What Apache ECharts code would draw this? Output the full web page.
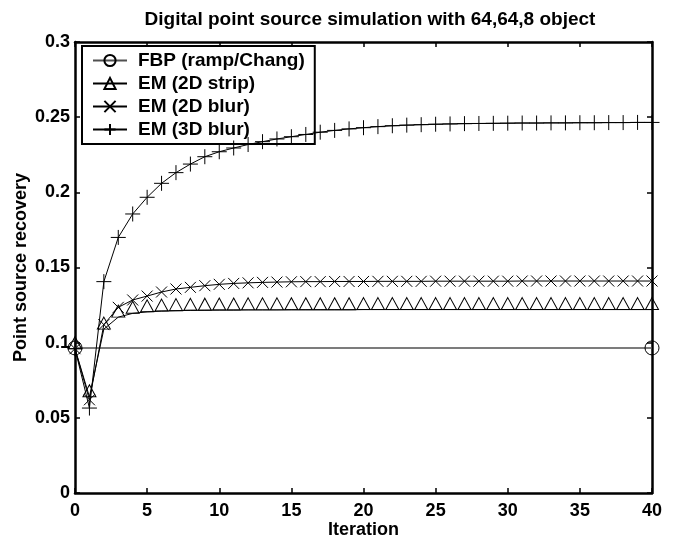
<!DOCTYPE html>
<html>
<head>
<meta charset="utf-8">
<script src="https://cdn.jsdelivr.net/npm/echarts@6/dist/echarts.min.js"></script>
<style>
  html, body { margin: 0; padding: 0; background: #fff; }
  #chart { width: 678px; height: 542px; }
</style>
</head>
<body>
<div id="chart"></div>
<script>
// values
const iterations = [0,1,2,3,4,5,6,7,8,9,10,11,12,13,14,15,16,17,18,19,20,
  21,22,23,24,25,26,27,28,29,30,31,32,33,34,35,36,37,38,39,40];

const fbpX = [0, 40];
const fbpY = [0.0965, 0.0965];

const em2DStrip = [0.0960,0.0640,0.1090,0.1170,0.1195,0.1205,0.1210,0.1213,0.1215,0.1216,
  0.1217,0.1217,0.1218,0.1218,0.1218,0.1219,0.1219,0.1219,0.1219,0.1219,0.1220,
  0.1220,0.1220,0.1220,0.1220,0.1220,0.1220,0.1220,0.1220,0.1220,0.1220,
  0.1220,0.1220,0.1220,0.1220,0.1220,0.1220,0.1220,0.1220,0.1220,0.1220];

const em2DBlur = [0.0960,0.0620,0.1120,0.1235,0.1284,0.1310,0.1337,0.1357,0.1368,0.1379,
  0.1388,0.1394,0.1398,0.1401,0.1403,0.1405,0.1406,0.1406,0.1407,0.1407,0.1407,
  0.1408,0.1408,0.1408,0.1408,0.1409,0.1409,0.1409,0.1409,0.1409,0.1409,
  0.1410,0.1410,0.1410,0.1410,0.1410,0.1410,0.1410,0.1410,0.1410,0.1410];

const em3DBlur = [0.0960,0.0565,0.1406,0.1700,0.1856,0.1967,0.2060,0.2131,0.2188,0.2237,
  0.2270,0.2295,0.2318,0.2337,0.2355,0.2370,0.2385,0.2400,0.2412,0.2422,0.2430,
  0.2437,0.2443,0.2447,0.2450,0.2453,0.2455,0.2457,0.2458,0.2459,0.2460,
  0.2461,0.2461,0.2462,0.2462,0.2463,0.2463,0.2464,0.2464,0.2465,0.2465];

const xTicks = [0, 5, 10, 15, 20, 25, 30, 35, 40];
const yTicks = [0, 0.05, 0.1, 0.15, 0.2, 0.25, 0.3];

const seriesNames = ['FBP (ramp/Chang)', 'EM (2D strip)', 'EM (2D blur)', 'EM (3D blur)'];

const font = 'Liberation Sans, Arial, Helvetica, sans-serif';
const pairs = (xs, ys) => xs.map((x, i) => [x, ys[i]]);

const chart = echarts.init(document.getElementById('chart'), null, { renderer: 'canvas' });

const axisCommon = {
  type: 'value',
  axisLine: { onZero: false, lineStyle: { color: '#000', width: 2.5 } },
  axisTick: { inside: true, length: 5, lineStyle: { color: '#000', width: 1.5 } },
  splitLine: { show: false }
};

const hollow = { color: 'none', borderColor: '#000', borderWidth: 1 };
const boldText = (size) => ({ fontFamily: font, fontWeight: 'bold', fontSize: size, color: '#000' });

chart.setOption({
  animation: false,
  backgroundColor: '#fff',
  title: {
    text: 'Digital point source simulation with 64,64,8 object',
    left: 365,
    top: 5,
    textAlign: 'center',
    textStyle: boldText(19)
  },
  grid: { left: 75, right: 26, top: 42, bottom: 49, outerBoundsMode: 'none' },
  legend: {
    orient: 'vertical',
    left: 82,
    top: 46,
    data: seriesNames,
    backgroundColor: '#fff',
    borderColor: '#000',
    borderWidth: 2,
    padding: [5, 10, 5, 10],
    itemGap: 4,
    itemWidth: 34,
    itemHeight: 14,
    textStyle: Object.assign(boldText(19), { padding: [0, 0, 0, 6] })
  },
  xAxis: [
    Object.assign({}, axisCommon, {
      min: 0, max: 40, interval: 5,
      name: 'Iteration',
      nameLocation: 'middle',
      nameGap: 28,
      nameMoveOverlap: false,
      nameTextStyle: boldText(18),
      axisLabel: Object.assign(boldText(18), { margin: 9, customValues: xTicks })
    }),
    Object.assign({}, axisCommon, {
      position: 'top', min: 0, max: 40, interval: 5,
      axisLabel: { show: false }
    })
  ],
  yAxis: [
    Object.assign({}, axisCommon, {
      min: 0, max: 0.3, interval: 0.05,
      name: 'Point source recovery',
      nameLocation: 'middle',
      nameGap: 45,
      nameMoveOverlap: false,
      nameTextStyle: boldText(18),
      axisLabel: Object.assign(boldText(18), {
        margin: 5,
        customValues: yTicks,
        formatter: v => String(+v.toFixed(2))
      })
    }),
    Object.assign({}, axisCommon, {
      position: 'right', min: 0, max: 0.3, interval: 0.05,
      axisLabel: { show: false }
    })
  ],
  series: [
    {
      name: seriesNames[0],
      type: 'line',
      data: pairs(fbpX, fbpY),
      symbol: 'circle',
      symbolSize: 14,
      itemStyle: hollow,
      lineStyle: { color: '#505050', width: 1.5 },
      z: 2
    },
    {
      name: seriesNames[1],
      type: 'line',
      data: pairs(iterations, em2DStrip),
      symbol: 'path://M5,0L10,9L0,9Z',
      symbolSize: [13, 12],
      symbolOffset: [0, -6],
      itemStyle: hollow,
      lineStyle: { color: '#000', width: 1 },
      z: 3
    },
    {
      name: seriesNames[2],
      type: 'line',
      data: pairs(iterations, em2DBlur),
      symbol: 'path://M0,0L10,10M10,0L0,10',
      symbolSize: 11,
      itemStyle: hollow,
      lineStyle: { color: '#000', width: 1 },
      z: 4
    },
    {
      name: seriesNames[3],
      type: 'line',
      data: pairs(iterations, em3DBlur),
      symbol: 'path://M5,0L5,10M0,5L10,5',
      symbolSize: 15,
      itemStyle: hollow,
      lineStyle: { color: '#000', width: 1 },
      z: 5
    }
  ]
});
</script>
</body>
</html>
